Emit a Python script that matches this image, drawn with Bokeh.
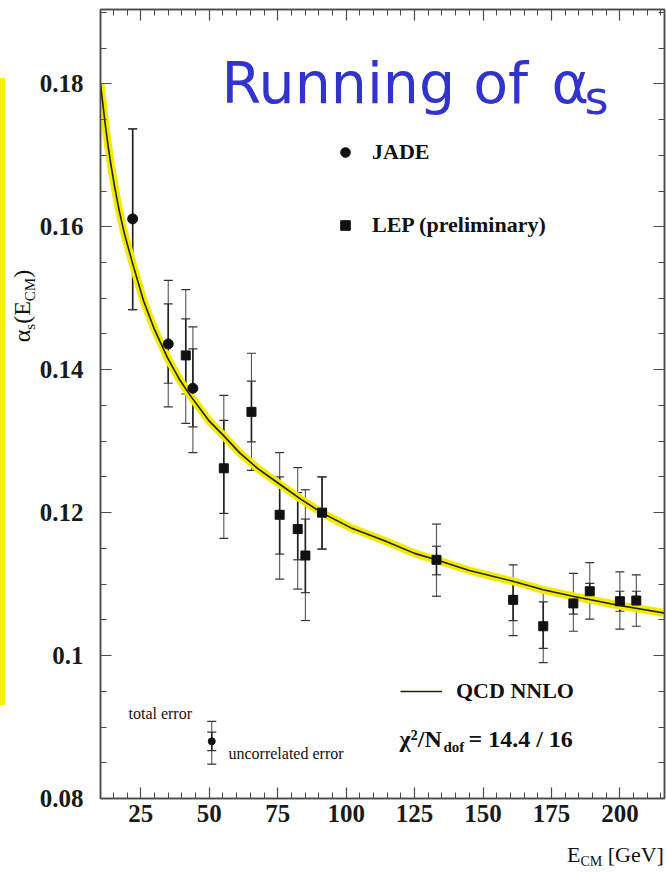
import numpy as np
from bokeh.plotting import figure
from bokeh.layouts import row, column
from bokeh.models import (ColumnDataSource, LinearAxis, FixedTicker, Label, Whisker, Div,
                          TeeHead, Legend, LegendItem, Range1d, CustomJSTickFormatter)
from bokeh.embed import file_html
from bokeh.resources import INLINE

# ---------------- data ----------------
jade_energy = [22.0, 35.0, 44.0]
jade_alpha = [0.1611, 0.1436, 0.1374]
jade_total_hi = [0.1737, 0.1525, 0.1460]
jade_total_lo = [0.1484, 0.1348, 0.1284]
jade_unc_hi = [0.1737, 0.1492, 0.1429]
jade_unc_lo = [0.1484, 0.1381, 0.1320]

lep_energy = [41.4, 55.3, 65.4, 75.7, 82.3, 85.1, 91.2, 133.0, 161.0, 172.0, 183.0, 189.0, 200.0, 206.0]
lep_alpha = [0.1420, 0.1262, 0.1341, 0.1197, 0.1177, 0.1140, 0.1200, 0.1134, 0.1078, 0.1041, 0.1073, 0.1090, 0.1076, 0.1077]
lep_total_hi = [0.1512, 0.1364, 0.1423, 0.1284, 0.1263, 0.1232, 0.1250, 0.1184, 0.1127, 0.1093, 0.1115, 0.1130, 0.1117, 0.1113]
lep_total_lo = [0.1325, 0.1164, 0.1259, 0.1107, 0.1093, 0.1049, 0.1149, 0.1083, 0.1028, 0.0990, 0.1034, 0.1051, 0.1037, 0.1041]
lep_unc_hi = [0.1471, 0.1329, 0.1384, 0.1250, 0.1228, 0.1191, 0.1250, 0.1153, 0.1105, 0.1075, 0.1086, 0.1101, 0.1090, 0.1090]
lep_unc_lo = [0.1366, 0.1199, 0.1299, 0.1142, 0.1134, 0.1088, 0.1149, 0.1113, 0.1049, 0.1010, 0.1058, 0.1078, 0.1062, 0.1064]

qcd_energy = [10.25, 11.0, 12.0, 13.0, 14.0, 15.5, 17.0, 19.0, 22.1, 26.0, 30.0, 34.7, 39.0, 43.2,
              50.0, 55.4, 61.0, 67.6, 76.0, 83.4, 91.0, 101.6, 113.8, 125.0, 132.9, 145.0, 160.9,
              172.0, 182.8, 199.9, 217.0]
qcd_alpha = [0.1800, 0.1775, 0.1743, 0.1714, 0.1688, 0.1654, 0.1624, 0.1590, 0.1547, 0.1496, 0.1456,
             0.1417, 0.1387, 0.1363, 0.1328, 0.1307, 0.1284, 0.1262, 0.1239, 0.1219, 0.1200, 0.1179,
             0.1161, 0.1143, 0.1134, 0.1119, 0.1104, 0.1092, 0.1083, 0.1070, 0.1059]

example_energy = [50.9]
example_alpha = [0.0880]
example_total_hi = [0.0908]
example_total_lo = [0.0848]
example_unc_hi = [0.0893]
example_unc_lo = [0.0867]

x_ticks = [25, 50, 75, 100, 125, 150, 175, 200]
y_ticks = [0.08, 0.10, 0.12, 0.14, 0.16, 0.18]
y_tick_labels = ["0.08", "0.1", "0.12", "0.14", "0.16", "0.18"]
chi2_value, n_dof = 14.4, 16

# ---------------- geometry (page pixels) ----------------
PAGE_W, PAGE_H = 666, 872
STRIP_W = 9            # yellow strip column
YLAB_W = 27            # y-axis label column
LEFT_W = STRIP_W + YLAB_W
XLAB_H = 34            # x-axis label row
MAIN_W = PAGE_W - LEFT_W
MAIN_H = PAGE_H - XLAB_H
X_START, X_END = 10.25, 216.3
Y_START, Y_END = 0.08, 0.1904
FL, FR, FT, FB = 100, 664, 9, 798          # frame edges on the page
FW, FH = FR - FL, FB - FT


def px_x(page_x):
    return X_START + (page_x - FL) * (X_END - X_START) / FW


def px_y(page_y):
    return Y_START + (FB - page_y) * (Y_END - Y_START) / FH


AX = "#4a4a4a"
INK = "#111111"
YELLOW = "#f2ea00"
SERIF = "Liberation Serif"

p = figure(width=MAIN_W, height=MAIN_H, x_range=Range1d(X_START, X_END), y_range=Range1d(Y_START, Y_END),
           output_backend="svg", toolbar_location=None, x_axis_location=None, y_axis_location=None,
           min_border_left=FL - LEFT_W, min_border_right=PAGE_W - FR, min_border_top=FT,
           min_border_bottom=MAIN_H - FB)
p.grid.visible = False
p.outline_line_color = AX
p.outline_line_width = 1.5
p.background_fill_color = "white"
p.border_fill_color = "white"

x_minor = list(range(15, 220, 5))
y_minor = [round(0.08 + 0.005 * i, 3) for i in range(0, 23)]


def style_axis(ax, ticks, minor, labels):
    ax.ticker = FixedTicker(ticks=ticks, minor_ticks=minor)
    ax.axis_line_color = AX
    ax.axis_line_width = 1.5
    ax.major_tick_in = 11
    ax.major_tick_out = 0
    ax.minor_tick_in = 6
    ax.minor_tick_out = 0
    ax.major_tick_line_color = AX
    ax.minor_tick_line_color = AX
    ax.major_tick_line_width = 1.2
    ax.minor_tick_line_width = 1
    if labels:
        ax.major_label_text_font = SERIF
        ax.major_label_text_font_style = "bold"
        ax.major_label_text_font_size = "25px"
        ax.major_label_text_color = "#1a1a1a"
    else:
        ax.formatter = CustomJSTickFormatter(code="return ''")
        ax.major_label_text_font_size = "0px"
        ax.major_label_standoff = 0


xb = LinearAxis()
style_axis(xb, x_ticks, x_minor, True)
xb.major_label_standoff = 6
p.add_layout(xb, "below")

xt = LinearAxis()
style_axis(xt, x_ticks, x_minor, False)
p.add_layout(xt, "above")

yl = LinearAxis()
style_axis(yl, y_ticks, y_minor, True)
yl.major_label_standoff = 17
yl.formatter = CustomJSTickFormatter(
    args=dict(t=y_ticks, l=y_tick_labels),
    code="for (let i = 0; i < t.length; i++) { if (Math.abs(t[i] - tick) < 1e-9) return l[i]; } return '';")
p.add_layout(yl, "left")

yr = LinearAxis()
style_axis(yr, y_ticks, y_minor, False)
p.add_layout(yr, "right")

# ---------------- QCD curve with band ----------------
p.line(qcd_energy, qcd_alpha, line_width=8, line_color=YELLOW, line_join="round")
qcd_r = p.line(qcd_energy, qcd_alpha, line_width=1.6, line_color="#222200", line_join="round")

# ---------------- error bars ----------------


def add_errors(energy, total_hi, total_lo, unc_hi, unc_lo):
    src = ColumnDataSource(dict(e=energy, th=total_hi, tl=total_lo, uh=unc_hi, ul=unc_lo))
    outer = Whisker(source=src, base="e", upper="th", lower="tl", line_color="#555555", line_width=1.1,
                    upper_head=TeeHead(size=9, line_color="#333333", line_width=1.2),
                    lower_head=TeeHead(size=9, line_color="#333333", line_width=1.2))
    inner = Whisker(source=src, base="e", upper="uh", lower="ul", line_color="#222222", line_width=1.6,
                    upper_head=TeeHead(size=9, line_color="#333333", line_width=1.2),
                    lower_head=TeeHead(size=9, line_color="#333333", line_width=1.2))
    p.add_layout(outer)
    p.add_layout(inner)


add_errors(jade_energy, jade_total_hi, jade_total_lo, jade_unc_hi, jade_unc_lo)
add_errors(lep_energy, lep_total_hi, lep_total_lo, lep_unc_hi, lep_unc_lo)
add_errors(example_energy, example_total_hi, example_total_lo, example_unc_hi, example_unc_lo)

jade_r = p.scatter(jade_energy, jade_alpha, marker="circle", size=10, color=INK)
lep_r = p.scatter(lep_energy, lep_alpha, marker="square", size=9, color=INK)
p.scatter(example_energy, example_alpha, marker="circle", size=7, color=INK)

# ---------------- legends ----------------
leg1 = Legend(items=[LegendItem(label="JADE", renderers=[jade_r]),
                     LegendItem(label="LEP (preliminary)", renderers=[lep_r])],
              location=(233, 560), orientation="vertical")
leg2 = Legend(items=[LegendItem(label="QCD NNLO", renderers=[qcd_r])], location=(300, 94))
for lg, gw, st in ((leg1, 24, 15), (leg2, 42, 14)):
    lg.glyph_width = gw
    lg.glyph_height = 24
    lg.label_height = 24
    lg.spacing = 47
    lg.label_standoff = st
    lg.padding = 0
    lg.margin = 0
    lg.border_line_color = None
    lg.background_fill_alpha = 0
    lg.label_text_font = SERIF
    lg.label_text_font_style = "bold"
    lg.label_text_font_size = "22px"
    lg.label_text_color = INK
    lg.label_text_baseline = "middle"
    p.add_layout(lg)

# ---------------- texts inside the frame ----------------


def txt(text, page_x, page_y, size, font=SERIF, style="normal", color=INK, baseline="alphabetic"):
    p.add_layout(Label(x=px_x(page_x), y=px_y(page_y), text=text, text_font=font, text_font_style=style,
                       text_font_size=size, text_color=color, text_baseline=baseline, text_align="left"))


BLUE = "#3232cc"
txt("Running of", 221, 82, "57px", font="DejaVu Sans", color=BLUE)
txt("α", 551, 82, "57px", font="DejaVu Sans", color=BLUE)
txt("s", 584, 97, "46px", font="DejaVu Sans", color=BLUE)

txt("total error", 128, 713, "16px", baseline="middle")
txt("uncorrelated error", 228, 753, "16px", baseline="middle")

txt("χ²/N", 399, 738, "24px", style="bold")
txt("dof", 443, 746, "15px", style="bold")
txt("= %.1f / %d" % (chi2_value, n_dof), 468, 738, "24px", style="bold")

# ---------------- outside texts as HTML (axis titles with subscripts) ----------------
strip = Div(text="", width=5, height=627, margin=(78, STRIP_W - 5, PAGE_H - 705, 0),
            styles={"background-color": "#f7f200"})

ylabel_html = (
    '<div style="position:relative;width:%dpx;height:%dpx;">'
    '<div style="position:absolute;left:%dpx;top:306px;transform:translate(-50%%,-50%%) rotate(-90deg);'
    "white-space:nowrap;font-family:'Liberation Serif';font-size:24px;line-height:24px;color:#111;\">"
    '&alpha;<sub style="font-size:15px;">s</sub>(E<sub style="font-size:15px;">CM</sub>)</div></div>'
    % (YLAB_W, PAGE_H, 26 - STRIP_W))
ylabel = Div(text=ylabel_html, width=YLAB_W, height=PAGE_H, margin=0)

xlabel_html = (
    '<div style="position:relative;width:%dpx;height:%dpx;overflow:hidden;">'
    '<div style="position:absolute;left:%dpx;top:4px;white-space:nowrap;'
    "font-family:'Liberation Serif';font-size:22px;line-height:26px;color:#111;\">"
    'E<span style="font-size:14px;line-height:0;vertical-align:-4px;">CM</span> [GeV]</div></div>'
    % (MAIN_W, XLAB_H, 567 - LEFT_W))
xlabel = Div(text=xlabel_html, width=MAIN_W, height=XLAB_H, margin=0,
             styles={"overflow": "hidden"})

layout = row(strip, ylabel, column(p, xlabel, spacing=0), spacing=0)
open("out.html", "w").write(file_html(layout, INLINE))
